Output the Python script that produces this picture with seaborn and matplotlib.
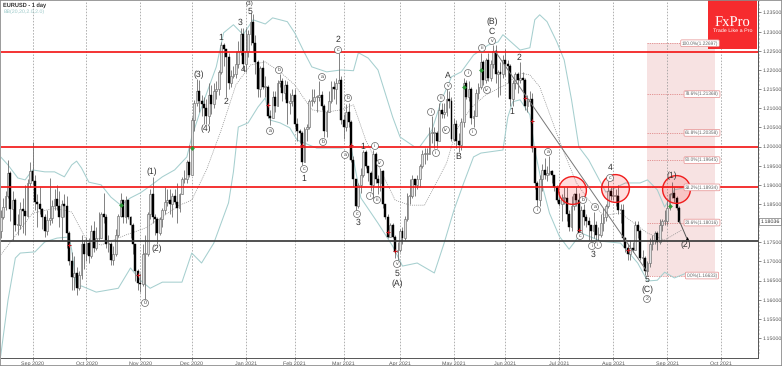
import numpy as np
import pandas as pd
import seaborn as sns
import matplotlib
matplotlib.use("Agg")
import matplotlib.pyplot as plt

closes = [
 1.1815,1.1842,1.1871,1.1931,1.1838,1.1860,1.1795,1.1795,1.1838,1.1832,1.1820,1.1905,1.1937,
 1.1910,1.1855,1.1850,1.1838,1.1817,1.1780,1.1807,1.1813,1.1846,1.1862,1.1846,1.1815,1.1850,1.1845,1.1775,1.1700,1.1660,1.1670,1.1630,1.1665,1.1745,1.1720,
 1.1747,1.1715,1.1780,1.1735,1.1760,1.1760,1.1825,1.1815,1.1745,1.1745,1.1705,1.1720,1.1770,1.1820,1.1860,1.1815,1.1860,1.1815,1.1795,1.1745,1.1675,1.1645,
 1.1640,1.1720,1.1720,1.1825,1.1875,1.1815,1.1810,1.1775,1.1810,1.1835,1.1855,1.1860,1.1850,1.1870,1.1855,1.1840,1.1875,1.1915,1.1915,1.1960,1.1925,
 1.2070,1.2115,1.2145,1.2120,1.2110,1.2100,1.2080,1.2135,1.2110,1.2145,1.2150,1.2195,1.2265,1.2255,1.2235,1.2165,1.2185,1.2190,1.2215,1.2250,1.2295,1.2215,
 1.2250,1.2295,1.2325,1.2270,1.2220,1.2150,1.2205,1.2155,1.2155,1.2080,1.2075,1.2130,1.2105,1.2165,1.2170,1.2140,1.2160,1.2115,1.2120,1.2135,
 1.2060,1.2040,1.2035,1.1960,1.2045,1.2050,1.2120,1.2120,1.2130,1.2130,1.2135,1.2105,1.2040,1.2090,1.2120,1.2155,1.2150,1.2165,1.2175,1.2070,
 1.2050,1.2090,1.2065,1.1965,1.1915,1.1845,1.1900,1.1925,1.1985,1.1950,1.1930,1.1900,1.1980,1.1915,1.1905,1.1935,1.1850,1.1815,1.1765,1.1795,1.1765,1.1725,1.1730,
 1.1780,1.1760,1.1810,1.1870,1.1870,1.1915,1.1900,1.1915,1.1950,1.1980,1.1980,1.1980,1.2035,1.2035,1.2035,1.2015,1.2095,1.2085,1.2090,1.2125,1.2120,1.2020,
 1.2060,1.2015,1.2005,1.2065,1.2165,1.2130,1.2150,1.2075,1.2080,1.2140,1.2155,1.2220,1.2175,1.2225,1.2180,1.2215,1.2250,1.2190,1.2195,1.2190,1.2225,
 1.2215,1.2210,1.2125,1.2165,1.2190,1.2175,1.2180,1.2175,1.2105,1.2120,1.2125,1.1995,1.1905,1.1860,1.1915,1.1940,1.1925,1.1930,1.1935,1.1925,1.1895,1.1860,
 1.1850,1.1865,1.1865,1.1825,1.1790,1.1845,1.1875,1.1860,1.1775,1.1835,1.1815,1.1805,1.1795,1.1780,1.1795,1.1770,1.1770,1.1800,1.1815,1.1845,1.1885,1.1870,
 1.1870,1.1870,1.1835,1.1835,1.1760,1.1735,1.1720,1.1735,1.1730,1.1795,1.1780,1.1710,1.1710,1.1675,1.1695,1.1745,1.1755,1.1775,1.1750,1.1795,1.1805,1.1805,
 1.1840,1.1875,1.1880,1.1865,1.1840,1.1804]
highs = [
 1.1835,1.1865,1.1885,1.1966,1.1935,1.1885,1.1865,1.1825,1.1855,1.1865,1.1900,1.1915,1.1960,
 1.2012,1.1925,1.1875,1.1895,1.1840,1.1825,1.1835,1.1918,1.1860,1.1890,1.1900,1.1885,1.1860,1.1875,1.1870,1.1780,1.1725,1.1715,1.1685,1.1675,1.1770,1.1755,
 1.1765,1.1760,1.1795,1.1805,1.1790,1.1830,1.1830,1.1880,1.1825,1.1770,1.1750,1.1740,1.1785,1.1825,1.1880,1.1860,1.1870,1.1860,1.1820,1.1800,1.1720,1.1680,
 1.1670,1.1745,1.1770,1.1830,1.1890,1.1920,1.1825,1.1815,1.1815,1.1840,1.1895,1.1890,1.1890,1.1880,1.1890,1.1905,1.1880,1.1920,1.1940,1.1965,1.2005,
 1.2078,1.2122,1.2177,1.2175,1.2135,1.2130,1.2125,1.2165,1.2160,1.2165,1.2170,1.2200,1.2272,1.2270,1.2255,1.2245,1.2200,1.2210,1.2250,1.2275,1.2310,1.2310,
 1.2310,1.2305,1.2349,1.2345,1.2290,1.2225,1.2210,1.2225,1.2185,1.2160,1.2095,1.2145,1.2145,1.2175,1.2190,1.2180,1.2175,1.2170,1.2140,1.2150,
 1.2150,1.2075,1.2045,1.2040,1.2050,1.2060,1.2125,1.2150,1.2150,1.2135,1.2170,1.2145,1.2110,1.2095,1.2145,1.2170,1.2170,1.2180,1.2243,1.2185,
 1.2085,1.2110,1.2115,1.2070,1.1975,1.1915,1.1905,1.1945,1.1990,1.1990,1.1950,1.1935,1.1990,1.1985,1.1925,1.1945,1.1940,1.1850,1.1825,1.1800,1.1800,1.1770,1.1750,
 1.1785,1.1790,1.1820,1.1880,1.1915,1.1925,1.1915,1.1925,1.1955,1.1990,1.1995,1.1995,1.2050,1.2080,1.2050,1.2040,1.2115,1.2115,1.2115,1.2150,1.2145,1.2130,
 1.2075,1.2070,1.2035,1.2075,1.2180,1.2175,1.2170,1.2155,1.2095,1.2150,1.2165,1.2245,1.2225,1.2230,1.2245,1.2225,1.2266,1.2265,1.2200,1.2220,1.2240,
 1.2255,1.2225,1.2215,1.2175,1.2195,1.2195,1.2220,1.2195,1.2180,1.2135,1.2145,1.2140,1.1990,1.1910,1.1925,1.1955,1.1970,1.1950,1.1975,1.1940,1.1925,1.1900,
 1.1885,1.1875,1.1895,1.1895,1.1835,1.1870,1.1880,1.1895,1.1880,1.1845,1.1850,1.1825,1.1815,1.1795,1.1830,1.1805,1.1790,1.1825,1.1840,1.1850,1.1910,1.1895,
 1.1895,1.1890,1.1900,1.1850,1.1850,1.1765,1.1745,1.1755,1.1750,1.1805,1.1805,1.1785,1.1730,1.1715,1.1700,1.1760,1.1770,1.1780,1.1780,1.1810,1.1810,1.1835,
 1.1860,1.1880,1.1908,1.1895,1.1870,1.1845]
lows = [
 1.1760,1.1810,1.1835,1.1865,1.1805,1.1755,1.1780,1.1770,1.1785,1.1775,1.1770,1.1815,1.1895,
 1.1900,1.1835,1.1790,1.1825,1.1785,1.1765,1.1770,1.1795,1.1800,1.1835,1.1835,1.1790,1.1755,1.1815,1.1735,1.1690,1.1625,1.1625,1.1612,1.1625,1.1655,1.1680,
 1.1700,1.1695,1.1710,1.1725,1.1730,1.1755,1.1760,1.1800,1.1735,1.1725,1.1690,1.1690,1.1715,1.1765,1.1815,1.1800,1.1800,1.1810,1.1760,1.1720,1.1650,1.1625,
 1.1620,1.1635,1.1603,1.1715,1.1810,1.1800,1.1770,1.1745,1.1770,1.1790,1.1825,1.1845,1.1825,1.1815,1.1850,1.1800,1.1830,1.1875,1.1905,1.1905,1.1920,
 1.1925,1.2040,1.2105,1.2090,1.2080,1.2060,1.2060,1.2060,1.2085,1.2100,1.2125,1.2135,1.2190,1.2210,1.2130,1.2150,1.2155,1.2180,1.2180,1.2205,1.2240,1.2200,
 1.2195,1.2235,1.2265,1.2250,1.2190,1.2130,1.2130,1.2150,1.2130,1.2075,1.2055,1.2075,1.2090,1.2105,1.2155,1.2120,1.2125,1.2060,1.2085,1.2105,
 1.2050,1.2015,1.2010,1.1952,1.1960,1.2015,1.2045,1.2105,1.2115,1.2090,1.2120,1.2095,1.2025,1.2025,1.2090,1.2115,1.2125,1.2110,1.2165,1.2060,
 1.2020,1.2040,1.2050,1.1960,1.1895,1.1835,1.1840,1.1880,1.1920,1.1945,1.1910,1.1885,1.1865,1.1905,1.1875,1.1885,1.1840,1.1810,1.1760,1.1765,1.1760,1.1710,1.1705,
 1.1725,1.1745,1.1755,1.1805,1.1850,1.1865,1.1870,1.1890,1.1895,1.1945,1.1955,1.1965,1.1980,1.2010,1.1995,1.1995,1.2015,1.2075,1.2075,1.2080,1.2100,1.2015,
 1.2015,1.1995,1.1985,1.1990,1.2050,1.2125,1.2120,1.2060,1.2050,1.2080,1.2125,1.2150,1.2160,1.2165,1.2170,1.2170,1.2205,1.2165,1.2130,1.2135,1.2180,
 1.2185,1.2165,1.2105,1.2105,1.2150,1.2140,1.2165,1.2145,1.2095,1.2090,1.2105,1.1985,1.1890,1.1845,1.1845,1.1885,1.1915,1.1910,1.1925,1.1905,1.1885,1.1855,
 1.1845,1.1805,1.1850,1.1805,1.1780,1.1780,1.1835,1.1845,1.1770,1.1770,1.1795,1.1790,1.1755,1.1755,1.1760,1.1755,1.1750,1.1765,1.1780,1.1805,1.1840,1.1860,
 1.1860,1.1845,1.1825,1.1800,1.1755,1.1725,1.1705,1.1705,1.1725,1.1730,1.1760,1.1705,1.1690,1.1665,1.1665,1.1685,1.1730,1.1745,1.1730,1.1745,1.1780,1.1795,
 1.1795,1.1835,1.1865,1.1855,1.1835,1.1800]
first_open = 1.1780

upper_bar = [0,3,7,10,13,18,22,26,29,31,33,36,41,45,49,53,57,61,66,71,76,78,82,88,91,95,99,103,108,111,117,120,124,127,133,139,144,146,150,154,160,163,169,171,176,180,184,188,193,199,203,205,212,216,218,220,223,227,230,233,236,240,247,255,261,264,268,271,275,280]
upper_val = [1.1973,1.1952,1.1918,1.1913,1.1939,1.1934,1.1934,1.1921,1.1952,1.1962,1.1944,1.1907,1.1900,1.1868,1.1847,1.1866,1.1879,1.1897,1.1921,1.1939,1.1973,1.2025,1.2103,1.2208,1.2297,1.2318,1.2292,1.2331,1.2320,1.2336,1.2326,1.2297,1.2245,1.2208,1.2195,1.2200,1.2198,1.2245,1.2231,1.2200,1.2077,1.2025,1.1999,1.1999,1.2043,1.2122,1.2182,1.2195,1.2239,1.2265,1.2273,1.2292,1.2252,1.2258,1.2331,1.2344,1.2326,1.2273,1.2226,1.2122,1.1999,1.1965,1.1881,1.1905,1.1905,1.1913,1.1887,1.1842,1.1887,1.1894]
lower_bar = [0,3,6,8,14,18,23,28,29,31,33,39,48,53,57,61,66,74,78,82,87,93,95,97,101,105,108,110,114,118,121,129,139,143,147,154,160,164,170,177,181,185,189,193,196,205,207,209,212,216,218,221,224,228,232,237,245,253,260,264,268,271,275,280]
lower_val = [1.1453,1.1599,1.1709,1.1722,1.1725,1.1751,1.1761,1.1764,1.1730,1.1633,1.1636,1.1620,1.1630,1.1683,1.1651,1.1630,1.1646,1.1646,1.1722,1.1696,1.1748,1.1853,1.1934,1.2051,1.2062,1.2103,1.2127,1.2069,1.2062,1.2049,1.2017,1.1996,1.1996,1.1999,1.1866,1.1800,1.1740,1.1688,1.1696,1.1670,1.1748,1.1834,1.1905,1.1973,1.1983,1.1991,1.2077,1.2117,1.2122,1.2083,1.1991,1.1900,1.1826,1.1766,1.1732,1.1774,1.1753,1.1748,1.1696,1.1649,1.1651,1.1672,1.1657,1.1670]
mid_bar = [0,13,22,29,35,41,51,59,67,73,78,84,90,96,102,108,114,120,127,133,139,144,149,155,161,167,173,182,186,192,198,206,212,216,220,229,235,240,246,253,264,271,278]
mid_val = [1.1717,1.1826,1.1839,1.1829,1.1756,1.1743,1.1769,1.1787,1.1821,1.1847,1.1860,1.1939,1.2043,1.2161,1.2213,1.2221,1.2195,1.2161,1.2096,1.2090,1.2096,1.2109,1.2017,1.1939,1.1860,1.1847,1.1847,1.1957,1.2043,1.2101,1.2135,1.2161,1.2192,1.2187,1.2156,1.1999,1.1905,1.1860,1.1821,1.1826,1.1774,1.1756,1.1782]

month_bars = [13,35,57,78,100,120,140,163,185,206,228,250,272,294]
month_labels = ["Sep 2020","Oct 2020","Nov 2020","Dec 2020","Jan 2021","Feb 2021","Mar 2021","Apr 2021","May 2021","Jun 2021","Jul 2021","Aug 2021","Sep 2021","Oct 2021"]
price_ticks = [1.15,1.155,1.16,1.165,1.17,1.175,1.18,1.185,1.19,1.195,1.2,1.205,1.21,1.215,1.22,1.225,1.23,1.235]
red_levels = [1.2247,1.2000,1.1895]
black_level = 1.1754
fib_levels = [1.22697,1.21368,1.20358,1.19645,1.18934,1.18016,1.16633]
fib_labels = ["100.0%(1.22697)","78.6%(1.21368)","61.8%(1.20358)","50.0%(1.19645)","38.2%(1.18934)","23.6%(1.18016)","0.0%(1.16633)"]
last_price = 1.18036
red_sig_bar = [28,56,109,123,143,158,161,214,217,236,256]
red_sig_val = [1.1743,1.1664,1.2109,1.2004,1.2004,1.1777,1.1727,1.2127,1.2067,1.1782,1.1730]
green_sig_bar = [49,78,189,196,273]
green_sig_val = [1.1847,1.1996,1.2156,1.2200,1.1845]
circle_bar = [233.2,250.6,275.5]
circle_val = [1.1887,1.1892,1.1890]
trend_bar = [202,264]
trend_val = [1.2247,1.1672]
proj_bar = [277,280]
proj_val = [1.1806,1.1761]

# text, x px, y px, circled
wave_labels = [
 ("(1)",152,172,0),("(2)",157,249,0),("0",145,303,1),("(3)",199,75,0),("(4)",206,129,0),("1",221,38,0),("2",226,102,0),
 ("3",240,23,0),("4",243,70,0),("5",250,11.5,0),("(3)",250,3.5,0),("a",270,131,1),("b",279,70,1),("c",304,169,1),("1",304,179,0),
 ("a",322,77,1),("b",323,142,1),("c",338,50,1),("2",338,40,0),("b",348,98,1),("a",345,155,1),("1",363,147,0),("ii",375,146,1),
 ("iv",380,163,1),("i",370,196,1),("iii",377,200,1),("c",357,214,1),("3",358,223,0),("v",397,264,1),("5",397,274,0),("(A)",397,284,0),
 ("i",431,112,1),("ii",436,153,1),("iii",441,98,1),("iv",446,130,1),("v",448,86,1),("A",448,76,0),("B",458,157,0),("i",468,73,1),
 ("ii",473,132,1),("iii",482,48,1),("iv",487,90,1),("v",492,41,1),("C",492,32,0),("(B)",492,22,0),("1",512,112,0),("2",519,58,0),
 ("i",537,210,1),("a",548,152,1),("b",583,200,1),("a",595,207,1),("c",580,236,1),("i",592,246,1),("ii",598,245,1),("3",593,255,0),
 ("4",610,168,0),("c",610,178,1),("5",647,280,0),("(C)",647,290,0),("2",647,299,1),("(1)",672,176,0),("(2)",686,245,0)]

sns.set_style("white")
plt.rcParams["font.family"] = ["Liberation Sans", "DejaVu Sans"]
plt.rcParams["text.hinting"] = "no_hinting"
W, H = 782, 366
fig = plt.figure(figsize=(W/100, H/100), dpi=100, facecolor="white")
ax = fig.add_axes([1/W, (H-358)/H, 757/W, 357/H])

bars = np.arange(len(closes))
df = pd.DataFrame({"bar": bars, "close": closes, "high": highs, "low": lows})
df["open"] = df["close"].shift(1).fillna(first_open)

ax.set_xlim(0.14, 309.1)
ax.set_ylim(1.1448, 1.2380)

# fib zone
ax.axvspan(263.7, 291.6, ymin=(fib_levels[-1]-1.1448)/(1.2380-1.1448), ymax=(fib_levels[0]-1.1448)/(1.2380-1.1448),
           color="#f7e2e2", lw=0, zorder=0)
ax.hlines(fib_levels, 263.7, 291.6, colors="#e08a8a", linestyles=(0, (1.5, 1.2)), lw=0.6, zorder=1)

ax.set_xticks(month_bars)
ax.set_xticklabels(month_labels)
ax.grid(axis="x", color="#9a9a9a", linestyle=(0, (2, 2)), lw=0.55, zorder=1)
ax.grid(axis="y", visible=False)

# Bollinger bands
teal = "#a6cfcf"
sns.lineplot(x=upper_bar, y=upper_val, ax=ax, color=teal, linewidth=0.75, estimator=None, sort=False, zorder=2, legend=False)
sns.lineplot(x=lower_bar, y=lower_val, ax=ax, color=teal, linewidth=0.75, estimator=None, sort=False, zorder=2, legend=False)
sns.lineplot(x=mid_bar, y=mid_val, ax=ax, color="#8c8c8c", linewidth=0.5, linestyle=(0, (1.5, 1.5)), estimator=None, sort=False, zorder=2, legend=False)

# candles
ax.vlines(df["bar"], df["low"], df["high"], colors="#6e6e6e", lw=0.6, zorder=3)
up = df[df["close"] >= df["open"]]
dn = df[df["close"] < df["open"]]
ax.bar(up["bar"], (up["close"]-up["open"]).clip(lower=0.00025), bottom=up["open"], width=0.72,
       facecolor="#e2e2e2", edgecolor="#6e6e6e", lw=0.45, zorder=4)
ax.bar(dn["bar"], dn["open"]-dn["close"], bottom=dn["close"], width=0.8,
       facecolor="black", edgecolor="black", lw=0.3, zorder=4)

# levels
for lv in red_levels:
    ax.axhline(lv, color="#f31a1a", lw=1.25, zorder=5)
ax.axhline(black_level, color="#3c3c3c", lw=1.25, zorder=5)

# trend and projection
sns.lineplot(x=trend_bar, y=trend_val, ax=ax, color="#777777", linewidth=0.7, estimator=None, zorder=5, legend=False)
sns.lineplot(x=proj_bar, y=proj_val, ax=ax, color="#555555", linewidth=0.7, estimator=None, zorder=6, legend=False)
ax.scatter(proj_bar[-1:], proj_val[-1:], s=5, color="black", marker="^", zorder=6, lw=0)

# signals and circles
ax.scatter(red_sig_bar, red_sig_val, s=9, marker="+", color="#c4161c", lw=0.7, zorder=6)
ax.scatter(green_sig_bar, green_sig_val, s=6, marker="D", color="#2f9a3a", lw=0, zorder=6)
ax.scatter(circle_bar, circle_val, s=400, marker="o", facecolor=(1, 0, 0, 0.13), edgecolor="#f01c1c", lw=1.0, zorder=7, clip_on=False)

# axes
for side in ("top", "left"):
    ax.spines[side].set_visible(False)
for side in ("right", "bottom"):
    ax.spines[side].set_color("#555555")
    ax.spines[side].set_linewidth(0.7)
ax.yaxis.tick_right()
ax.set_yticks(price_ticks)
ax.set_yticklabels(["" if p == 1.18 else f"{p:.5f}" for p in price_ticks])
ax.set_yticks(np.arange(1.146, 1.238, 0.001), minor=True)
ax.tick_params(axis="y", which="major", direction="out", length=2.2, width=0.5, color="#555555", labelsize=3.9, labelcolor="#555555", pad=0.8, right=True)
ax.tick_params(axis="y", which="minor", direction="out", length=1.1, width=0.35, color="#777777", right=True)
ax.tick_params(axis="x", direction="out", length=1.5, width=0.5, color="#555555", labelsize=3.9, labelcolor="#555555", pad=0.6, bottom=True)

def fx(px): return px / W
def fy(py): return 1 - py / H

for txt, x, y, circ in wave_labels:
    if circ:
        fig.text(fx(x), fy(y), txt, fontsize=3.8, color="#444444", ha="center", va="center", zorder=9,
                 bbox=dict(boxstyle="circle,pad=0.22", fc="white", ec="#555555", lw=0.45))
    else:
        fig.text(fx(x), fy(y), txt, fontsize=(4.6 if y < 5 else 6.2), color="#333333", ha="center", va="center", zorder=9)

fig.text(fx(3), fy(5), "EURUSD - 1 day", fontsize=4.1, color="#333333", weight="bold", ha="left", va="center")
fig.text(fx(4), fy(12), "BB(20,20,2.0,2.0)", fontsize=3.8, color="#9cc9c9", ha="left", va="center")

# fib labels
fib_x = [700, 702, 702, 702, 702, 702, 702]
for lv, lb, xx in zip(fib_levels, fib_labels, fib_x):
    ypx = 358 - (lv-1.1448)/(1.2380-1.1448)*357
    fig.text(fx(xx), fy(ypx), lb, fontsize=3.4, color="#666666", ha="center", va="center", zorder=9,
             bbox=dict(boxstyle="round,pad=0.22", fc="white", ec="#e58d8d", lw=0.5))

# price tag
ypx = 358 - (last_price-1.1448)/(1.2380-1.1448)*357
fig.text(fx(770), fy(ypx), f"{last_price:.5f}", fontsize=3.9, color="#333333", ha="center", va="center", zorder=9,
         bbox=dict(boxstyle="square,pad=0.25", fc="white", ec="#555555", lw=0.4))

# logo
fig.patches.append(plt.Rectangle((708/W, 1-49/H), 49/W, 49/H, transform=fig.transFigure, fc="#f62b2e", ec="none", zorder=8, figure=fig))
fig.text(fx(732.5), fy(22), "FxPro", fontsize=10.5, family="Liberation Serif", color="white", ha="center", va="center", zorder=9)
fig.text(fx(732.5), fy(31), "Trade Like a Pro", fontsize=3.9, color="white", ha="center", va="center", zorder=9)

# outer frame
fig.patches.append(plt.Rectangle((0, 0), 1, 1, transform=fig.transFigure, fc="none", ec="#8a8a8a", lw=1.2, zorder=10, figure=fig))

fig.savefig("out.png", dpi=100, facecolor="white")
